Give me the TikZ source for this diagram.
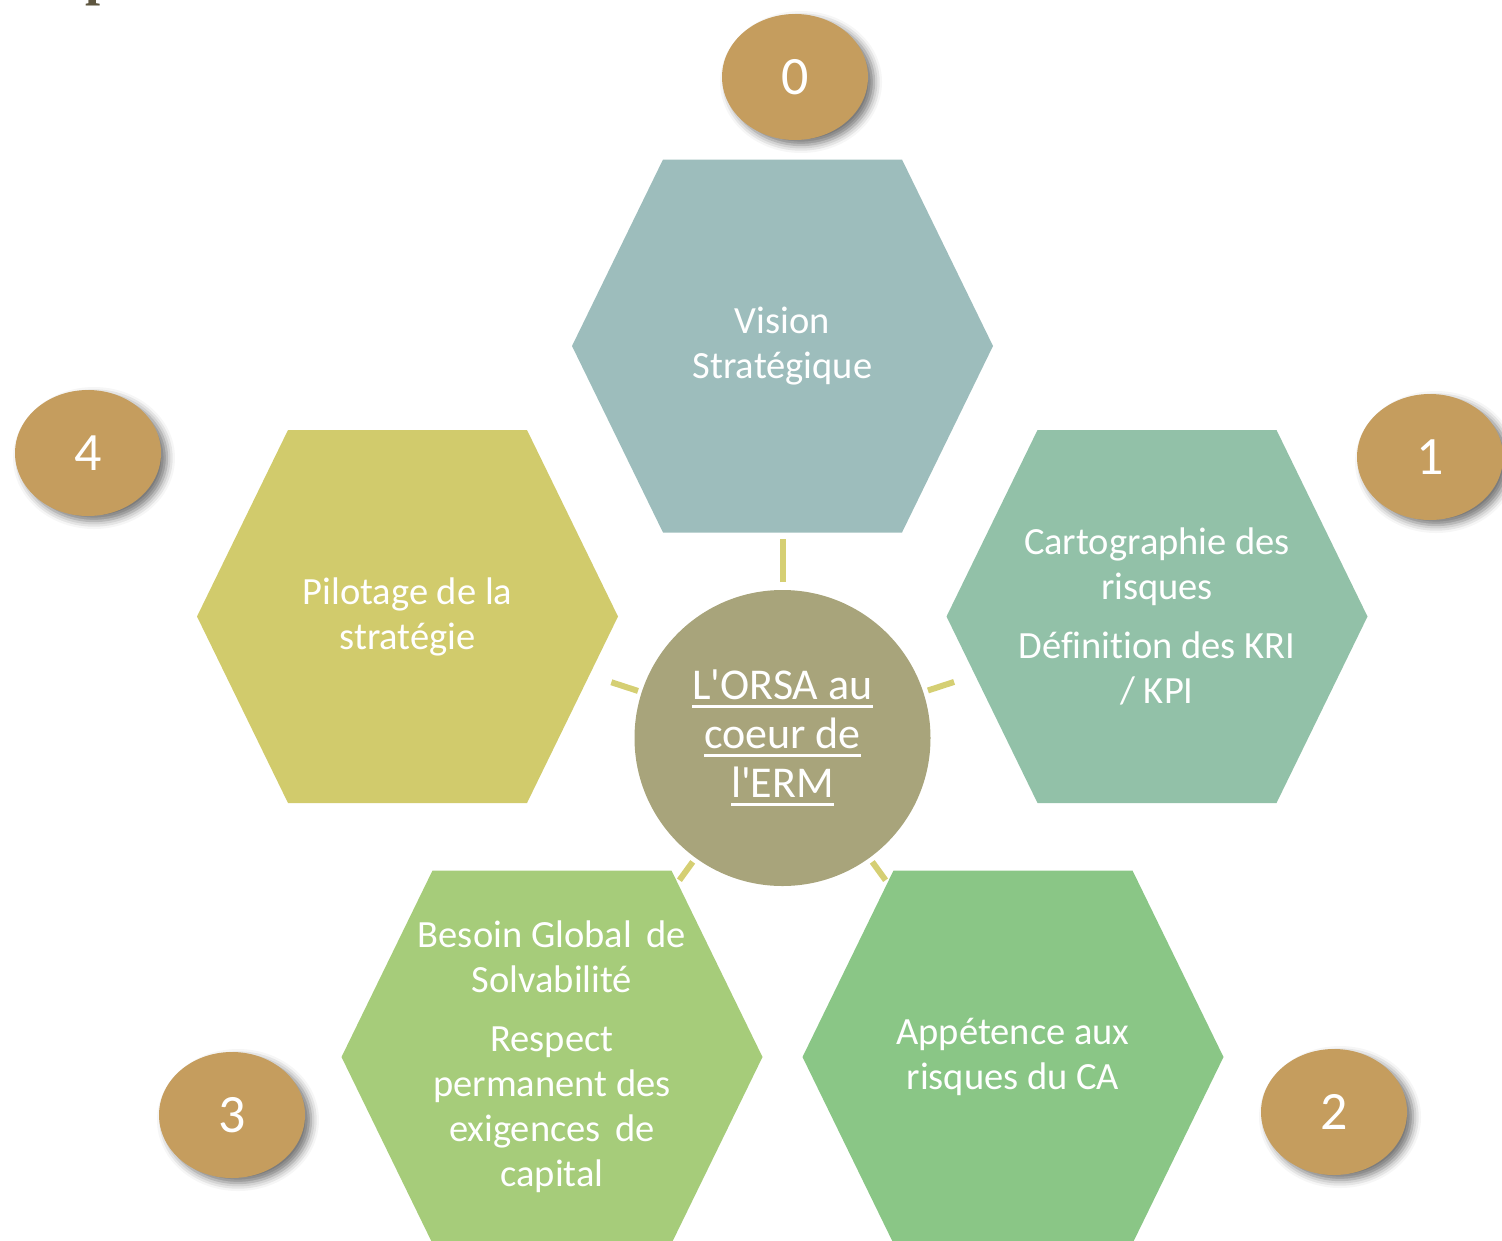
\documentclass[tikz,border=0pt]{standalone}
\usepackage{fontspec}
\setmainfont{Carlito}[Ligatures={TeXOff,CommonOff}]
\newfontfamily\titlefont{Liberation Serif}
\usepackage{tikz}
\usetikzlibrary{shapes.geometric,shadows.blur}

\definecolor{visioncol}{RGB}{157,189,188}
\definecolor{cartocol}{RGB}{146,193,168}
\definecolor{appetcol}{RGB}{138,198,134}
\definecolor{besoincol}{RGB}{166,204,122}
\definecolor{pilotcol}{RGB}{209,203,108}
\definecolor{orsacol}{RGB}{168,164,123}
\definecolor{spokecol}{RGB}{213,207,115}
\definecolor{badgecol}{RGB}{197,157,94}
\definecolor{titlecol}{RGB}{94,86,64}

% underline with a thicker rule than \underline
\newcommand{\souligne}[1]{\setbox0=\hbox{#1}\rlap{\rule[-8pt]{\wd0}{3pt}}\box0}

\begin{document}
\begin{tikzpicture}[x=1pt,y=-1pt,
  hexa/.style={minimum width=421pt, minimum height=373pt, inner sep=0pt, outer sep=0pt,
    align=center, text=white, font=\fontsize{38.5}{45}\selectfont,
    path picture={\fill[#1] ([xshift=91pt]path picture bounding box.north west)
      -- ([xshift=-91pt]path picture bounding box.north east)
      -- (path picture bounding box.east)
      -- ([xshift=-91pt]path picture bounding box.south east)
      -- ([xshift=91pt]path picture bounding box.south west)
      -- (path picture bounding box.west) -- cycle;}},
  badge/.style={ellipse, fill=badgecol, minimum width=146pt, minimum height=126pt,
    text=white, font=\fontsize{54}{60}\selectfont,
    blur shadow={shadow xshift=6pt, shadow yshift=-5pt, shadow blur radius=8pt, shadow opacity=55}},
  spoke/.style={draw=spokecol, line width=6pt}]
\useasboundingbox (0,0) rectangle (1502,1240);

\node[font=\titlefont\bfseries\fontsize{54}{60}\selectfont, text=titlecol, anchor=base] (titre) at (101,-6) {p};

% the five hexagons
\node[hexa=visioncol] (vision) at (782.5,346) {Vision\\Stratégique};
\node[hexa=cartocol] (carto) at (1157,616.5) {Cartographie des\\risques\\[14pt]Définition des KRI\\/ KPI};
\node[hexa=appetcol] (appetence) at (1013,1057) {Appétence aux\\risques du CA};
\node[hexa=besoincol] (besoin) at (552,1057) {Besoin Global\hspace{6pt} de\\Solvabilité\\[14pt]Respect\\permanent des\\exigences\hspace{6pt} de\\capital};
\node[hexa=pilotcol] (pilotage) at (407.5,616.5) {Pilotage de la\\stratégie};

% centre
\node[circle, fill=orsacol, minimum size=296pt, inner sep=0pt, outer sep=0pt, align=center,
  text=white, font=\fontsize{44}{49}\selectfont] (orsa) at (782.5,738)
  {\souligne{L'ORSA au}\\\souligne{coeur de}\\\souligne{l'ERM}};

% numbers
\node[badge] (n_0) at (795,77) {0};
\node[badge] (n_1) at (1430,457) {1};
\node[badge] (n_2) at (1334,1112) {2};
\node[badge] (n_3) at (232,1115) {3};
\node[badge] (n_4) at (88,453) {4};

\path (orsa) edge[spoke, shorten <=8pt, shorten >=6pt] (vision)
  (orsa) edge[spoke, shorten <=5pt, shorten >=-8pt] (carto)
  (orsa) edge[spoke, shorten <=5pt, shorten >=-12pt] (appetence)
  (orsa) edge[spoke, shorten <=5pt, shorten >=-12pt] (besoin)
  (orsa) edge[spoke, shorten <=4pt, shorten >=-7pt] (pilotage);
\end{tikzpicture}
\end{document}
